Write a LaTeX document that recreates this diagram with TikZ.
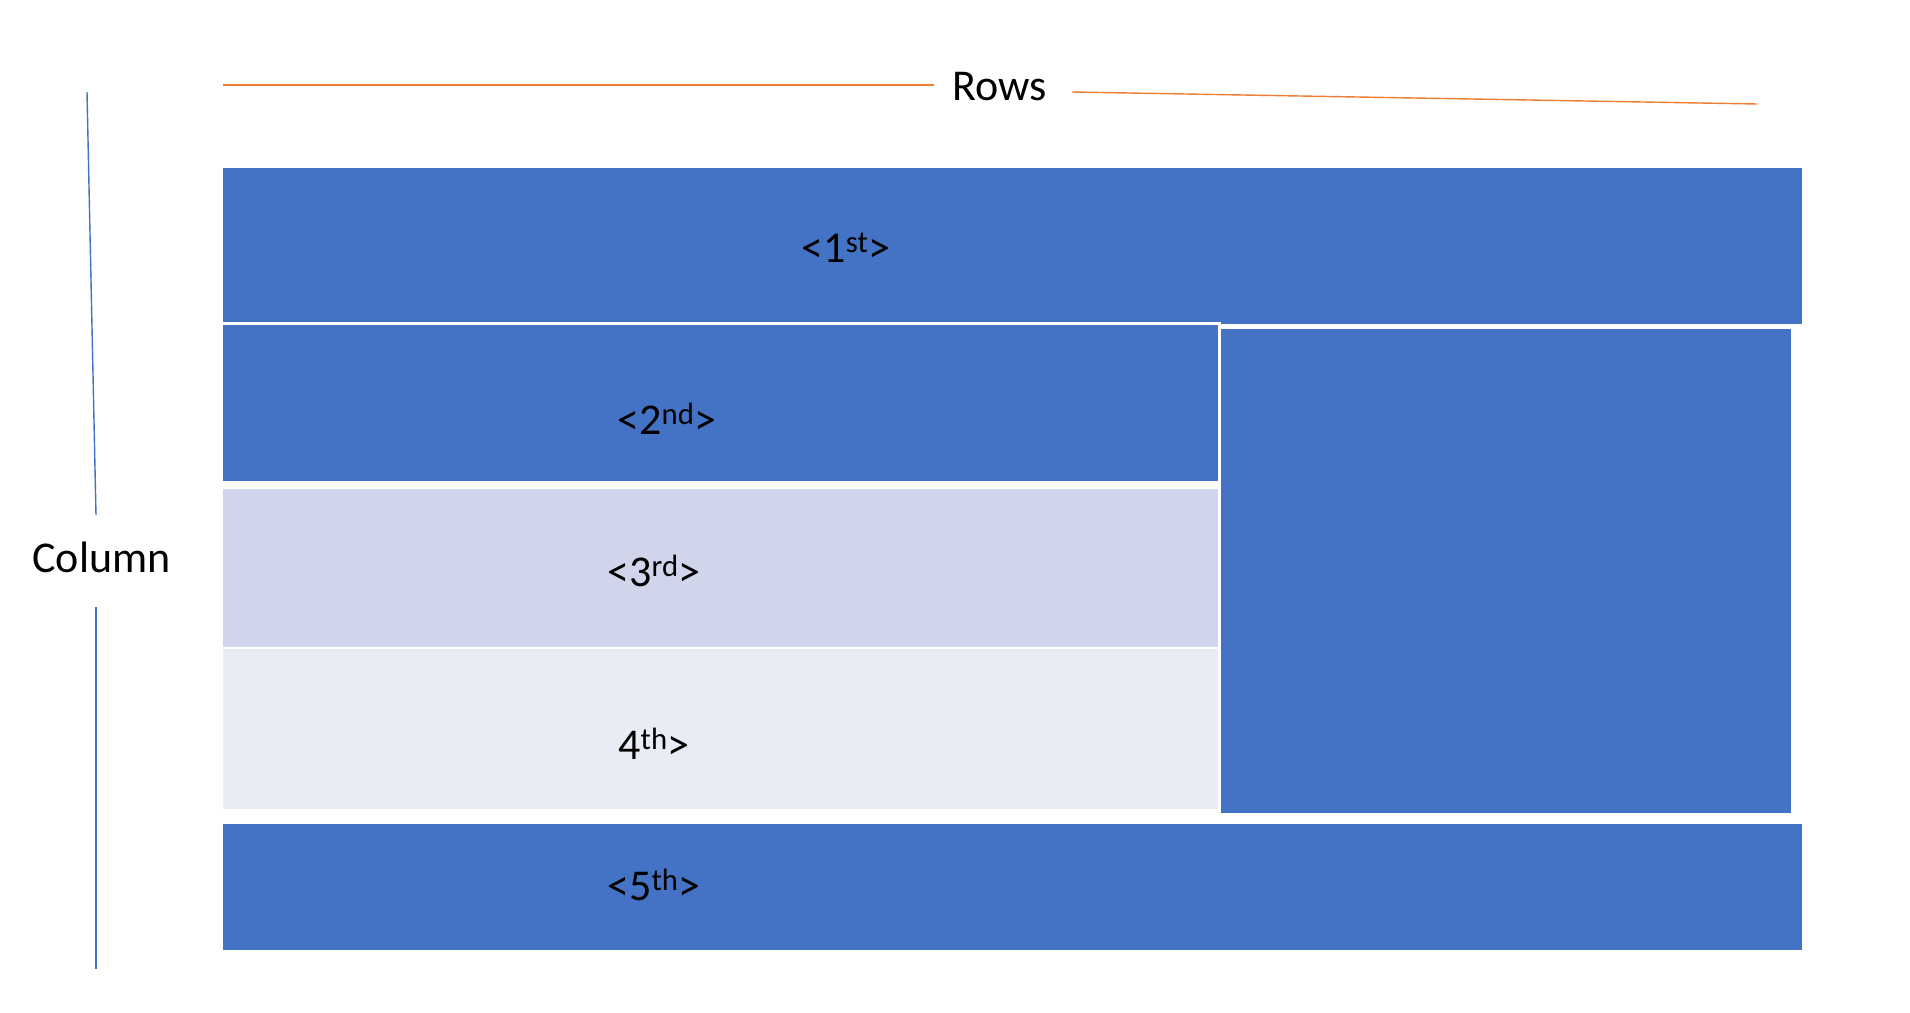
\documentclass[tikz,border=0pt]{standalone}
\usepackage{fontspec}
\setmainfont{Carlito}
\definecolor{oblue}{HTML}{4472C4}
\definecolor{lblue}{HTML}{CFD5EA}
\definecolor{llblue}{HTML}{E9EBF5}
\definecolor{orng}{HTML}{ED7D31}
\begin{document}
\begin{tikzpicture}[x=1pt,y=-1pt,
  lbl/.style={anchor=base,inner sep=0pt,font=\fontsize{44}{52}\selectfont,text=black},
  oline/.style={draw=orng,line width=1.4pt},
  bline/.style={draw=oblue,line width=1.4pt}]
\useasboundingbox (0,0) rectangle (1910,1012);
% boxes
\fill[oblue] (223,168) rectangle (1802,324);
\fill[oblue] (223,324) rectangle (1218,481);
\draw[white,line width=3pt] (223,323.5) -- (1219.5,323.5) -- (1219.5,482);
\fill[lblue] (223,489) rectangle (1218,647);
\fill[llblue] (223,649) rectangle (1218,809);
\fill[oblue] (1221,329) rectangle (1791,813);
\fill[oblue] (223,824) rectangle (1802,950);
% labels
\node[lbl] (r1) at (846,262) {<1\textsuperscript{st}>};
\node[lbl] (r2) at (667,434) {<2\textsuperscript{nd}>};
\node[lbl] (r3) at (654,586) {<3\textsuperscript{rd}>};
\node[lbl] (r4) at (654,759) {4\textsuperscript{th}>};
\node[lbl] (r5) at (654,900) {<5\textsuperscript{th}>};
\node[lbl] (rows) at (999.5,100) {Rows};
\node[lbl] (col) at (101.5,572) {Column};
% guide lines
\coordinate (ra) at (223,85);
\coordinate (rb) at (934,85);
\coordinate (rc) at (1072,92);
\coordinate (rd) at (1757,104);
\coordinate (ca) at (87,92);
\coordinate (cb) at (96,515);
\coordinate (cc) at (96,607);
\coordinate (cd) at (96,969);
\draw[oline] (ra) -- (rb);
\draw[oline] (rc) -- (rd);
\draw[bline] (ca) -- (cb);
\draw[bline] (cc) -- (cd);
\end{tikzpicture}
\end{document}
